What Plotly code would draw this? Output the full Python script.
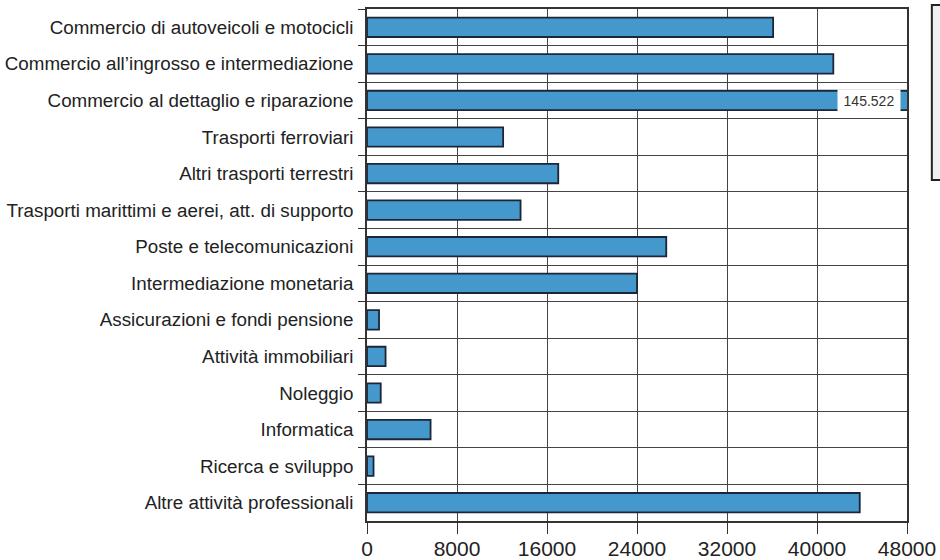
import plotly.graph_objects as go

categories = [
    "Commercio di autoveicoli e motocicli",
    "Commercio all\u2019ingrosso e intermediazione",
    "Commercio al dettaglio e riparazione",
    "Trasporti ferroviari",
    "Altri trasporti terrestri",
    "Trasporti marittimi e aerei, att. di supporto",
    "Poste e telecomunicazioni",
    "Intermediazione monetaria",
    "Assicurazioni e fondi pensione",
    "Attività immobiliari",
    "Noleggio",
    "Informatica",
    "Ricerca e sviluppo",
    "Altre attività professionali",
]
values = [36100, 41450, 145522, 12100, 17000, 13650, 26600, 24000, 1070, 1650, 1220, 5650, 580, 43800]
tick_values = [0, 8000, 16000, 24000, 32000, 40000, 48000]
tick_labels = ["0", "8000", "16000", "24000", "32000", "40000", "48000"]
x_max = 48000

FONT = "Liberation Sans, Arial, sans-serif"

fig = go.Figure()
fig.add_trace(go.Bar(
    y=categories, x=values, orientation="h", width=0.53,
    marker=dict(color="#4498cc", line=dict(color="#1c2638", width=1.8)),
    hoverinfo="x+y", showlegend=False,
))

# label for the clipped bar
for c, v in zip(categories, values):
    if v > x_max:
        fig.add_annotation(
            x=x_max, y=c, xref="x", yref="y", xanchor="right", xshift=-6,
            text=f"{v/1000:.3f}", showarrow=False, bgcolor="white",
            font=dict(family=FONT, size=14, color="#333"),
            width=58, height=17, borderpad=2, align="center",
        )

# partially visible legend box at right
fig.add_shape(type="rect", xref="paper", yref="paper",
              x0=1.046, x1=1.3, y0=0.666, y1=1.008,
              fillcolor="#efefef", line=dict(color="#222", width=2), layer="above")

fig.update_xaxes(
    range=[0, x_max], tickvals=tick_values, ticktext=tick_labels,
    showgrid=True, gridcolor="#444", gridwidth=1.4,
    ticks="outside", ticklen=11, tickcolor="#333", tickwidth=1.4,
    showline=True, linecolor="#333", linewidth=1.6, mirror=True,
    ticklabelstandoff=-3,
    tickfont=dict(family=FONT, size=21, color="#222"), zeroline=False,
)
fig.update_yaxes(
    type="category", autorange="reversed", tickson="boundaries",
    showgrid=True, gridcolor="#444", gridwidth=1.4,
    ticks="outside", ticklen=7, tickcolor="#333", tickwidth=1.4,
    showline=True, linecolor="#333", linewidth=1.6, mirror=True,
    ticklabelstandoff=8,
    tickfont=dict(family=FONT, size=18.8, color="#222"),
)
fig.update_layout(
    width=940, height=560,
    margin=dict(l=367, r=33, t=9, b=39, autoexpand=False),
    plot_bgcolor="white", paper_bgcolor="white",
    bargap=0.47,
)
fig.write_html("out.html", config={"displayModeBar": False},
               post_script="document.body.style.margin='0';document.body.style.overflow='hidden';")
